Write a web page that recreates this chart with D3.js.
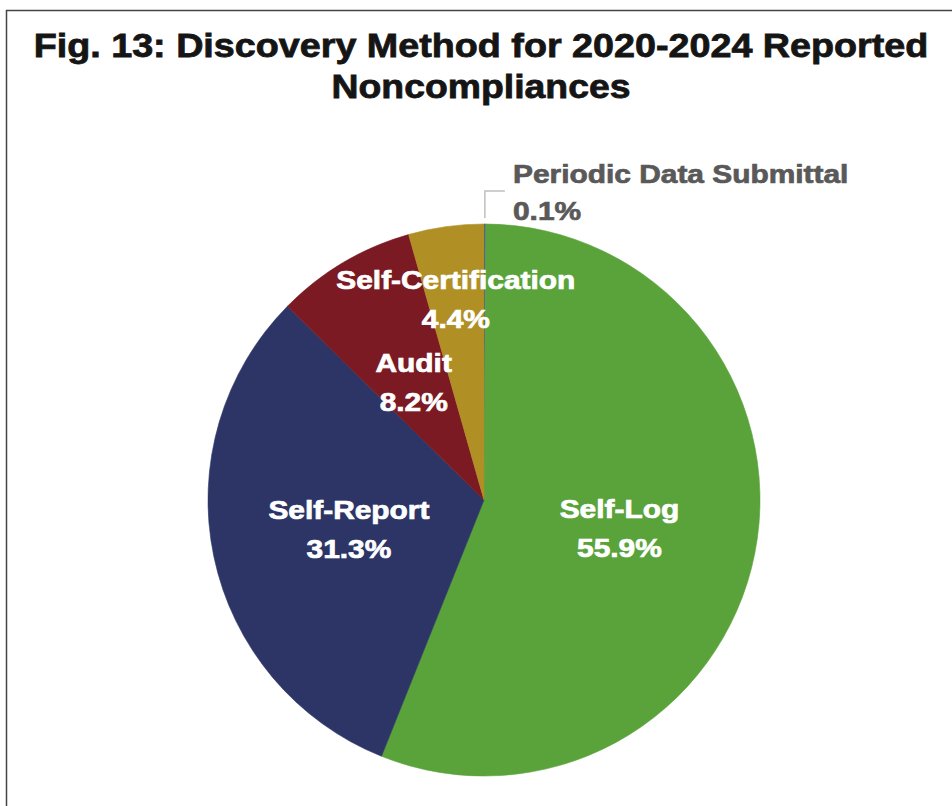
<!DOCTYPE html>
<html>
<head>
<meta charset="utf-8">
<script src="https://cdn.jsdelivr.net/npm/d3@7"></script>
<style>
  html, body { margin: 0; padding: 0; background: #fff; }
  svg { display: block; }
  text { font-family: "Liberation Sans", Arial, sans-serif; font-weight: bold; }
</style>
</head>
<body>
<svg id="chart" width="952" height="806"></svg>
<script>
// ---- data ----
const categories = ["Periodic Data Submittal", "Self-Log", "Self-Report", "Audit", "Self-Certification"];
const percents   = [0.1, 55.9, 31.3, 8.2, 4.4];
const colors     = ["#3b55a0", "#59a33a", "#2c3566", "#7b1a22", "#b08f25"];
const titleLines = ["Fig. 13: Discovery Method for 2020-2024 Reported", "Noncompliances"];

const W = 952, H = 806;
const cx = 484, cy = 500, R = 276;
const svg = d3.select("#chart");

// frame
svg.append("line").attr("x1", 6).attr("y1", 10.5).attr("x2", W).attr("y2", 10.5)
  .attr("stroke", "#444").attr("stroke-width", 1.5);
svg.append("line").attr("x1", 6.5).attr("y1", 10).attr("x2", 6.5).attr("y2", H)
  .attr("stroke", "#444").attr("stroke-width", 1.5);

// title
const titleTargets = [895, 299];
const titleBase = [57, 98];
titleLines.forEach((t, i) => {
  const g = svg.append("g");
  const txt = g.append("text").attr("text-anchor", "middle").attr("font-size", 34)
    .attr("fill", "#151515").attr("stroke", "#151515").attr("stroke-width", 0.8).text(t);
  const len = txt.node().getComputedTextLength();
  const sx = titleTargets[i] / len;
  g.attr("transform", `translate(${481},${titleBase[i]}) scale(${sx},1)`);
});

const data = categories.map((c, i) => ({ name: c, value: percents[i], color: colors[i] }));
const pie = d3.pie().sort(null).value(d => d.value).startAngle(0).endAngle(2 * Math.PI);
const arcs = pie(data);
const arc = d3.arc().innerRadius(0).outerRadius(R);

const gPie = svg.append("g").attr("transform", `translate(${cx},${cy})`);
gPie.selectAll("path").data(arcs).enter().append("path")
  .attr("d", arc)
  .attr("fill", d => d.data.color)
  .attr("stroke", d => d.data.color).attr("stroke-width", 0.6);

const fmt = v => v.toFixed(1) + "%";
const SX = 1.15, FS = 26;

function twoLine(x, y, l1, l2, color, anchor, gap) {
  [l1, l2].forEach((t, i) => {
    svg.append("text")
      .attr("transform", `translate(${x},${y + i * gap}) scale(${SX},1)`)
      .attr("text-anchor", anchor)
      .attr("font-size", FS)
      .attr("fill", color)
      .attr("stroke", color).attr("stroke-width", 0.7)
      .text(t);
  });
}

arcs.forEach((a, i) => {
  if (i === 0) {
    // outside label with leader line
    const mid = (a.startAngle + a.endAngle) / 2;
    const px = cx + Math.sin(mid) * R, py = cy - Math.cos(mid) * R;
    svg.append("polyline")
      .attr("points", `${px},${py - 6} ${px},${191} ${px + 20},${191}`)
      .attr("fill", "none").attr("stroke", "#bfbfbf").attr("stroke-width", 1.5);
    twoLine(513, 183, a.data.name, fmt(a.data.value), "#595959", "start", 37);
  } else {
    const mid = (a.startAngle + a.endAngle) / 2;
    const lr = a.data.value < 6 ? R * 0.74 : R * 0.5;
    const x = cx + Math.sin(mid) * lr, y = cy - Math.cos(mid) * lr;
    twoLine(x, y - 9, a.data.name, fmt(a.data.value), "#ffffff", "middle", 39);
  }
});
</script>
</body>
</html>
